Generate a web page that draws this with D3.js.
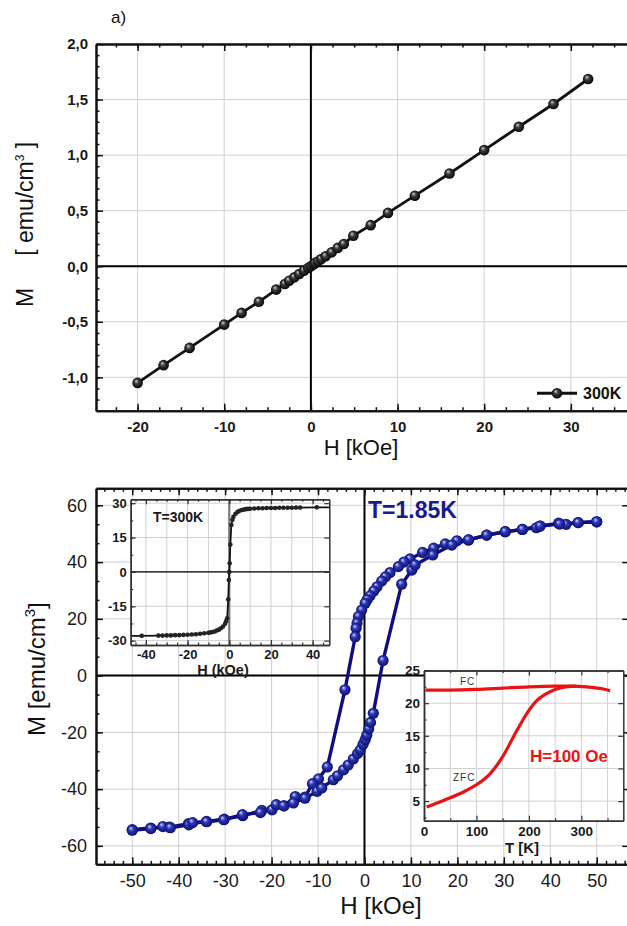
<!DOCTYPE html>
<html>
<head>
<meta charset="utf-8">
<script src="https://cdn.jsdelivr.net/npm/d3@7"></script>
<style>
body { margin: 0; background: #fff; }
svg { font-family: "Liberation Sans", Arial, sans-serif; }
</style>
</head>
<body>
<script>
// ---------- data : panel a) M(H) at 300K ----------
var topH = [-20, -17, -14, -10, -8, -6, -4, -3, -2.5, -1.9, -1.35, -0.8, -0.3, 0, 0.3, 0.5, 0.85, 1.2, 1.7, 2.4, 3.1, 3.8, 4.9, 6.9, 8.9, 12, 16, 20, 24, 28, 32];
var topM = [-1.05, -0.89, -0.735, -0.525, -0.42, -0.32, -0.21, -0.16, -0.13, -0.1, -0.07, -0.04, -0.015, 0, 0.015, 0.03, 0.045, 0.065, 0.09, 0.125, 0.165, 0.2, 0.275, 0.37, 0.48, 0.635, 0.835, 1.045, 1.255, 1.46, 1.685];
var topXTicks = [-20, -10, 0, 10, 20, 30];
var topYTicks = [-1.0, -0.5, 0, 0.5, 1.0, 1.5, 2.0];

// ---------- data : hysteresis loop at 1.85K ----------
var downH = [50, 46, 43.4, 41.8, 37.8, 37, 34, 30.3, 26.3, 22.4, 19.9, 17.4, 14.9, 12.5, 9.8, 8.5, 7.3, 5.5, 4.5, 3.7, 2.7, 2.0, 1.2, 0.6, 0.15, -0.6, -1.3, -1.6, -1.8, -2.0, -4.2, -8.0, -9.9, -11.2, -12.8, -14.9, -17.3, -19.9, -22.1, -26.2, -30.2, -34, -37.9, -42, -46, -50];
var downM = [54.2, 53.9, 53.3, 53.7, 52.7, 52.1, 51.5, 50.7, 49.5, 47.8, 47.5, 46.4, 44.9, 43.4, 41.1, 40.0, 38.4, 36.3, 34.8, 33.3, 31.3, 29.8, 28.1, 26.8, 25.5, 23.1, 20.8, 18.5, 16.7, 13.7, -5.0, -32.2, -36.4, -38.1, -42.8, -42.6, -45.9, -47.3, -47.5, -49.4, -50.6, -51.4, -52.2, -53.4, -53.7, -54.3];
var upH = [-50, -46, -43.4, -41.8, -37.8, -37, -34, -30.3, -26.3, -22.4, -19.0, -17.4, -15.3, -12.8, -10.2, -9.2, -6.7, -5.8, -4.5, -3.5, -2.4, -1.5, -0.9, -0.3, 0.15, 0.5, 0.9, 1.3, 1.9, 4.0, 8.0, 10.2, 10.9, 14.7, 18.8, 22.4, 26.3, 30.3, 34, 37.8, 42, 46, 50];
var upM = [-54.5, -53.9, -53.2, -53.6, -52.6, -51.8, -51.5, -50.8, -49.0, -48.3, -45.5, -45.9, -44.9, -43.2, -40.8, -39.6, -36.7, -35.3, -33.2, -31.5, -29.4, -27.5, -26.2, -24.2, -22.6, -21.0, -18.8, -16.5, -13.3, 5.3, 32.2, 37.2, 39.0, 42.5, 46.0, 47.8, 49.5, 50.7, 51.5, 52.7, 53.4, 53.9, 54.2];
var botXTicks = [-50, -40, -30, -20, -10, 0, 10, 20, 30, 40, 50];
var botYTicks = [-60, -40, -20, 0, 20, 40, 60];

// ---------- data : inset T=300K ----------
var in1H = [-47.3, -42, -34, -32, -30, -28, -26, -24, -22, -20, -18, -16, -14, -12, -10, -9, -8, -7, -6, -5, -4, -3, -2, -1.5, -1, -0.5, -0.2, 0, 0.2, 0.5, 1, 1.5, 2, 3, 4, 5, 6, 7, 8, 9, 10, 12, 14, 16, 18, 20, 22, 24, 26, 28, 30, 32, 34, 42, 48];
var in1M = [-27.9, -27.9, -27.8, -27.8, -27.7, -27.7, -27.6, -27.6, -27.5, -27.4, -27.3, -27.2, -27.0, -26.8, -26.6, -26.4, -26.2, -26.0, -25.6, -25.2, -24.6, -23.8, -22.6, -21.5, -20.2, -12, -3.5, 0, 3.8, 12, 20.5, 22.8, 24.1, 25.4, 26.2, 26.7, 27.0, 27.2, 27.4, 27.5, 27.6, 27.7, 27.8, 27.8, 27.9, 27.9, 27.9, 28.0, 28.0, 28.0, 28.0, 28.1, 28.1, 28.2, 28.2];
var in1XTicks = [-40, -20, 0, 20, 40];
var in1YTicks = [-30, -15, 0, 15, 30];

// ---------- data : inset FC / ZFC ----------
var fcT = [3, 50, 100, 150, 200, 250, 280, 310, 340, 355];
var fcM = [22.0, 22.0, 22.1, 22.3, 22.5, 22.6, 22.6, 22.5, 22.2, 21.9];
var zfcT = [5, 25, 50, 75, 100, 125, 150, 175, 200, 215, 230, 250, 270, 290];
var zfcM = [4.1, 4.7, 5.5, 6.4, 7.5, 9.1, 11.8, 15.5, 18.9, 20.4, 21.3, 22.1, 22.5, 22.6];
var in2XTicks = [0, 100, 200, 300];
var in2YTicks = [5, 10, 15, 20, 25];

var W = 627, H = 926;
var svg = d3.select("body").append("svg").attr("width", W).attr("height", H);

var defs = svg.append("defs");
function ball(id, c0, c1, c2) {
    let gr = defs.append("radialGradient").attr("id", id)
        .attr("cx", "50%").attr("cy", "50%").attr("r", "55%")
        .attr("fx", "35%").attr("fy", "30%");
    gr.append("stop").attr("offset", "0%").attr("stop-color", c0);
    gr.append("stop").attr("offset", "40%").attr("stop-color", c1);
    gr.append("stop").attr("offset", "100%").attr("stop-color", c2);
}
ball("ballBlack", "#d0d0d0", "#3a3a3a", "#000");
ball("ballBlue", "#c9d2ff", "#2c37b0", "#0a0a6e");

function commaFmt(d) {
    return (d < 0 ? "-" : "") + Math.abs(d).toFixed(1).replace(".", ",");
}

function styleAxis(sel, o) {
    sel.attr("font-family", null).attr("font-size", null);
    sel.select(".domain").attr("stroke", o.color).attr("stroke-width", o.sw);
    sel.selectAll(".tick line").attr("stroke", o.color).attr("stroke-width", o.tw);
    sel.selectAll(".tick text").attr("font-size", o.fs).attr("font-weight", o.fw).attr("fill", "#1a1a1a");
}

// light grid at the major values
function drawGrid(g, x, y, o) {
    let xr = x.range(), yr = y.range();
    g.append("g").selectAll("line").data(o.xGrid).join("line")
        .attr("x1", d => x(d)).attr("x2", d => x(d))
        .attr("y1", yr[0]).attr("y2", yr[1])
        .attr("stroke", o.grid).attr("stroke-width", 1);
    g.append("g").selectAll("line").data(o.yGrid).join("line")
        .attr("y1", d => y(d)).attr("y2", d => y(d))
        .attr("x1", xr[0]).attr("x2", xr[1])
        .attr("stroke", o.grid).attr("stroke-width", 1);
}

// frame with inward ticks, labels on bottom and left only
function drawFrame(g, x, y, o) {
    let xr = x.range(), yr = y.range();
    let st = {color: o.color, sw: o.sw, tw: o.tw, fs: o.fs, fw: o.fw};
    g.append("g").attr("transform", "translate(0," + yr[0] + ")")
        .call(d3.axisBottom(x).tickValues(o.xMinor).tickSize(-o.tl / 2).tickSizeOuter(0).tickFormat(""))
        .call(styleAxis, st);
    g.append("g").attr("transform", "translate(0," + yr[0] + ")")
        .call(d3.axisBottom(x).tickValues(o.xMajor).tickSize(-o.tl).tickSizeOuter(0).tickPadding(o.xpad).tickFormat(o.xf))
        .call(styleAxis, st);
    g.append("g").attr("transform", "translate(0," + yr[1] + ")")
        .call(d3.axisTop(x).tickValues(o.xMinor).tickSize(-o.tl / 2).tickSizeOuter(0).tickFormat(""))
        .call(styleAxis, st);
    g.append("g").attr("transform", "translate(0," + yr[1] + ")")
        .call(d3.axisTop(x).tickValues(o.xMajor).tickSize(-o.tl).tickSizeOuter(0).tickFormat(""))
        .call(styleAxis, st);
    g.append("g").attr("transform", "translate(" + xr[0] + ",0)")
        .call(d3.axisLeft(y).tickValues(o.yMinor).tickSize(-o.tl / 2).tickSizeOuter(0).tickFormat(""))
        .call(styleAxis, st);
    g.append("g").attr("transform", "translate(" + xr[0] + ",0)")
        .call(d3.axisLeft(y).tickValues(o.yMajor).tickSize(-o.tl).tickSizeOuter(0).tickPadding(o.ypad).tickFormat(o.yf))
        .call(styleAxis, st);
    g.append("g").attr("transform", "translate(" + xr[1] + ",0)")
        .call(d3.axisRight(y).tickValues(o.yMajor).tickSize(-o.tl).tickSizeOuter(0).tickFormat(""))
        .call(styleAxis, st);
}

function inDomain(arr, sc) {
    let d = sc.domain(), lo = Math.min(d[0], d[1]), hi = Math.max(d[0], d[1]);
    return arr.filter(v => v > lo + 1e-6 && v < hi - 1e-6);
}

/*************** panel a) ***************/
var gTop = svg.append("g");
var xTop = d3.scaleLinear().domain([-24.8, 37.5]).range([96, 635.8]);
var yTop = d3.scaleLinear().domain([-1.3, 2.0]).range([410.7, 44]);

drawGrid(gTop, xTop, yTop, {xGrid: topXTicks, yGrid: topYTicks, grid: "#d2d2d2"});
gTop.append("line").attr("x1", xTop(0)).attr("x2", xTop(0)).attr("y1", yTop.range()[0]).attr("y2", yTop.range()[1])
    .attr("stroke", "#000").attr("stroke-width", 2);
gTop.append("line").attr("y1", yTop(0)).attr("y2", yTop(0)).attr("x1", xTop.range()[0]).attr("x2", xTop.range()[1])
    .attr("stroke", "#000").attr("stroke-width", 2);

var topData = d3.zip(topH, topM);
gTop.append("path").datum(topData)
    .attr("fill", "none").attr("stroke", "#111").attr("stroke-width", 2.8)
    .attr("d", d3.line().x(d => xTop(d[0])).y(d => yTop(d[1])));
gTop.append("g").selectAll("circle").data(topData).join("circle")
    .attr("cx", d => xTop(d[0])).attr("cy", d => yTop(d[1])).attr("r", 5.3)
    .attr("fill", "url(#ballBlack)");

drawFrame(gTop, xTop, yTop, {
    xMajor: topXTicks, xMinor: inDomain(d3.range(-25, 40, 2.5), xTop),
    yMajor: topYTicks, yMinor: inDomain(d3.range(-13, 21, 1).map(v => v / 10), yTop),
    tl: 7, color: "#111", sw: 2, tw: 1.5, fs: 15, fw: "bold",
    xpad: 11, ypad: 8, xf: d => String(d), yf: commaFmt
});

// legend
var legY = yTop(-1.143);
gTop.append("line").attr("x1", 537).attr("x2", 577).attr("y1", legY).attr("y2", legY)
    .attr("stroke", "#111").attr("stroke-width", 2.8);
gTop.append("circle").attr("cx", 557).attr("cy", legY).attr("r", 5.3).attr("fill", "url(#ballBlack)");
gTop.append("text").attr("x", 583).attr("y", legY + 6).attr("font-size", 16).attr("font-weight", "bold")
    .attr("fill", "#111").text("300K");

svg.append("text").attr("x", 111).attr("y", 23).attr("font-size", 17).attr("fill", "#111").text("a)");

var ylTop = svg.append("text").attr("transform", "translate(33,307) rotate(-90)")
    .attr("font-size", 23).attr("fill", "#111");
ylTop.append("tspan").text("M");
ylTop.append("tspan").attr("dx", 32).text("[ emu/cm");
ylTop.append("tspan").attr("dy", -9).attr("font-size", 12).text("3");
ylTop.append("tspan").attr("dy", 9).text("  ]");

svg.append("text").attr("x", 361).attr("y", 455).attr("text-anchor", "middle")
    .attr("font-size", 22).attr("fill", "#111").text("H [kOe]");

/*************** panel b) hysteresis ***************/
var gBot = svg.append("g");
var xBot = d3.scaleLinear().domain([-57.8, 57]).range([96, 96 + 114.8 * 4.645]);
var yBot = d3.scaleLinear().domain([-66.5, 66]).range([864.3, 488.3]);

drawGrid(gBot, xBot, yBot, {xGrid: botXTicks, yGrid: botYTicks, grid: "#cfcfcf"});
gBot.append("line").attr("x1", xBot(0)).attr("x2", xBot(0)).attr("y1", yBot.range()[0]).attr("y2", yBot.range()[1])
    .attr("stroke", "#000").attr("stroke-width", 2);
gBot.append("line").attr("y1", yBot(0)).attr("y2", yBot(0)).attr("x1", xBot.range()[0]).attr("x2", xBot.range()[1])
    .attr("stroke", "#000").attr("stroke-width", 2);

var navy = "#0f0f80";
var loopLine = d3.line().x(d => xBot(d[0])).y(d => yBot(d[1]));
var branches = [d3.zip(downH, downM), d3.zip(upH, upM)];
branches.forEach(function(br) {
    gBot.append("path").datum(br)
        .attr("fill", "none").attr("stroke", navy).attr("stroke-width", 3.4)
        .attr("d", loopLine);
});
branches.forEach(function(br) {
    gBot.append("g").selectAll("circle").data(br).join("circle")
        .attr("cx", d => xBot(d[0])).attr("cy", d => yBot(d[1])).attr("r", 5.6)
        .attr("fill", "url(#ballBlue)");
});

drawFrame(gBot, xBot, yBot, {
    xMajor: botXTicks, xMinor: inDomain(d3.range(-56, 58, 2), xBot),
    yMajor: botYTicks, yMinor: inDomain(d3.range(-60, 67, 20 / 3), yBot),
    tl: 7, color: "#111", sw: 2, tw: 1.5, fs: 18, fw: "normal",
    xpad: 10, ypad: 9, xf: d => String(d), yf: d => String(d)
});

svg.append("text").attr("x", 368).attr("y", 518).attr("font-size", 23).attr("font-weight", "bold")
    .attr("fill", "#1a1a8c").text("T=1.85K");

var ylBot = svg.append("text").attr("transform", "translate(45,736) rotate(-90)")
    .attr("font-size", 24).attr("fill", "#111");
ylBot.append("tspan").text("M [emu/cm");
ylBot.append("tspan").attr("dy", -10).attr("font-size", 15).text("3");
ylBot.append("tspan").attr("dy", 10).text("]");

svg.append("text").attr("x", 381).attr("y", 914).attr("text-anchor", "middle")
    .attr("font-size", 24).attr("fill", "#111").text("H [kOe]");

/*************** inset 1 : T=300K ***************/
var gIn1 = svg.append("g");
var xIn1 = d3.scaleLinear().domain([-47.3, 48]).range([130.7, 329.3]);
var yIn1 = d3.scaleLinear().domain([-31.9, 31.7]).range([645, 499.3]);
gIn1.append("rect").attr("x", 130.7).attr("y", 499.3).attr("width", 198.6).attr("height", 145.7).attr("fill", "#fff");
drawGrid(gIn1, xIn1, yIn1, {xGrid: d3.range(-40, 41, 10), yGrid: in1YTicks, grid: "#d0d0d0"});
gIn1.append("line").attr("y1", yIn1(0)).attr("y2", yIn1(0)).attr("x1", xIn1.range()[0]).attr("x2", xIn1.range()[1])
    .attr("stroke", "#000").attr("stroke-width", 1.2);
gIn1.append("line").attr("x1", xIn1(0)).attr("x2", xIn1(0)).attr("y1", yIn1.range()[0]).attr("y2", yIn1.range()[1])
    .attr("stroke", "#7a7a7a").attr("stroke-width", 2.2);
var in1Data = d3.zip(in1H, in1M);
gIn1.append("path").datum(in1Data)
    .attr("fill", "none").attr("stroke", "#111").attr("stroke-width", 1.8)
    .attr("d", d3.line().x(d => xIn1(d[0])).y(d => yIn1(d[1])));
gIn1.append("g").selectAll("circle").data(in1Data.slice(1, -1)).join("circle")
    .attr("cx", d => xIn1(d[0])).attr("cy", d => yIn1(d[1])).attr("r", 2.3).attr("fill", "#222");
drawFrame(gIn1, xIn1, yIn1, {
    xMajor: in1XTicks, xMinor: inDomain(d3.range(-45, 50, 5), xIn1),
    yMajor: in1YTicks, yMinor: inDomain(d3.range(-30, 31, 7.5), yIn1),
    tl: 5, color: "#333", sw: 1.5, tw: 1.2, fs: 13, fw: "bold",
    xpad: 5, ypad: 4, xf: d => String(d), yf: d => String(d)
});
gIn1.append("text").attr("x", 153).attr("y", 522).attr("font-size", 14).attr("font-weight", "bold")
    .attr("fill", "#1a1a1a").text("T=300K");
gIn1.append("text").attr("x", 223).attr("y", 675).attr("text-anchor", "middle")
    .attr("font-size", 14.5).attr("font-weight", "bold").attr("fill", "#1a1a1a").text("H (kOe)");

/*************** inset 2 : FC / ZFC ***************/
var gIn2 = svg.append("g");
var xIn2 = d3.scaleLinear().domain([0, 380]).range([424, 623.3]);
var yIn2 = d3.scaleLinear().domain([2, 25]).range([820.7, 670.5]);
gIn2.append("rect").attr("x", 424).attr("y", 670.5).attr("width", 199.3).attr("height", 150.2).attr("fill", "#fff");
drawGrid(gIn2, xIn2, yIn2, {xGrid: d3.range(50, 380, 50), yGrid: [5, 10, 15, 20], grid: "#d0d0d0"});
var red = "#ee1111";
var tLine = d3.line().curve(d3.curveMonotoneX).x(d => xIn2(d[0])).y(d => yIn2(d[1]));
gIn2.append("path").datum(d3.zip(fcT, fcM))
    .attr("fill", "none").attr("stroke", red).attr("stroke-width", 3.2).attr("d", tLine);
gIn2.append("path").datum(d3.zip(zfcT, zfcM))
    .attr("fill", "none").attr("stroke", red).attr("stroke-width", 3.2).attr("d", tLine);
drawFrame(gIn2, xIn2, yIn2, {
    xMajor: in2XTicks, xMinor: inDomain(d3.range(50, 380, 100), xIn2),
    yMajor: in2YTicks, yMinor: inDomain(d3.range(2.5, 25, 5), yIn2),
    tl: 5, color: "#333", sw: 1.5, tw: 1.2, fs: 13.5, fw: "bold",
    xpad: 6, ypad: 4, xf: d => String(d), yf: d => String(d)
});
gIn2.append("text").attr("x", 460).attr("y", 685).attr("font-size", 10).attr("letter-spacing", 1)
    .attr("fill", "#333").text("FC");
gIn2.append("text").attr("x", 453).attr("y", 781).attr("font-size", 10).attr("letter-spacing", 1)
    .attr("fill", "#333").text("ZFC");
gIn2.append("text").attr("x", 530).attr("y", 762).attr("font-size", 17).attr("font-weight", "bold")
    .attr("fill", red).text("H=100 Oe");
gIn2.append("text").attr("x", 522).attr("y", 853).attr("text-anchor", "middle")
    .attr("font-size", 15).attr("font-weight", "bold").attr("fill", "#1a1a1a").text("T [K]");
</script>
</body>
</html>
